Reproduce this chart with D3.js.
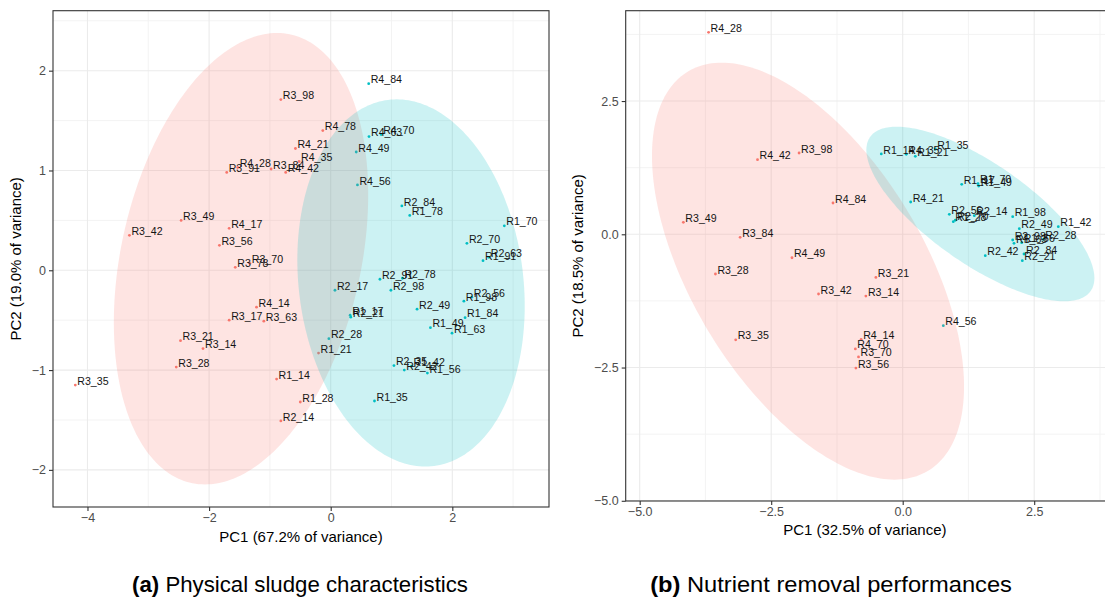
<!DOCTYPE html>
<html>
<head>
<meta charset="utf-8">
<script src="https://cdn.jsdelivr.net/npm/d3@7"></script>
<style>
  body { margin: 0; background: #ffffff; }
  svg { display: block; }
</style>
</head>
<body>
<svg id="chart" width="1105" height="601"></svg>
<script>
// ---------- (a) Physical sludge characteristics: PCA scores ----------
const sludgeLabels = [
  "R3_98","R4_28","R3_91","R3_84","R4_42","R4_35","R4_21","R4_78","R3_49","R3_42",
  "R4_17","R3_56","R3_78","R3_70","R4_14","R3_17","R3_63","R3_21","R3_14","R3_28",
  "R3_35","R1_14","R2_14","R1_28","R1_21",
  "R2_28","R2_17","R1_17","R2_21","R2_91","R2_78","R2_98","R2_49","R1_49","R1_63",
  "R1_84","R1_98","R2_56","R2_35","R2_42","R1_42","R1_56","R1_35","R4_84","R4_63",
  "R4_70","R4_49","R4_56","R2_84","R1_78","R1_70","R2_70","R1_91","R2_63"
];
const sludgePC1 = [
  -0.82,-1.53,-1.71,-0.98,-0.74,-0.52,-0.58,-0.13,-2.46,-3.31,
  -1.67,-1.83,-1.57,-1.33,-1.22,-1.67,-1.10,-2.47,-2.10,-2.54,
  -4.20,-0.89,-0.82,-0.50,-0.20,
  -0.03,0.07,0.32,0.33,0.81,1.18,0.99,1.42,1.64,1.995,
  2.21,2.19,2.32,1.04,1.21,1.33,1.59,0.72,0.625,0.63,
  0.83,0.42,0.44,1.17,1.30,2.855,2.24,2.505,2.60
];
const sludgePC2 = [
  1.71,1.03,0.98,1.015,0.98,1.09,1.22,1.40,0.50,0.35,
  0.42,0.25,0.03,0.07,-0.37,-0.50,-0.51,-0.705,-0.785,-0.97,
  -1.15,-1.09,-1.51,-1.32,-0.83,
  -0.685,-0.20,-0.45,-0.47,-0.09,-0.08,-0.20,-0.39,-0.575,-0.63,
  -0.475,-0.31,-0.27,-0.955,-1.00,-0.96,-1.03,-1.31,1.87,1.34,
  1.36,1.185,0.855,0.645,0.55,0.445,0.27,0.096,0.13
];
const sludgeCluster = [
  1,1,1,1,1,1,1,1,1,1,
  1,1,1,1,1,1,1,1,1,1,
  1,1,1,1,1,
  2,2,2,2,2,2,2,2,2,2,
  2,2,2,2,2,2,2,2,2,2,
  2,2,2,2,2,2,2,2,2
];
// 95% ellipses: centre, end of the vertical-extreme semi-diameter, horizontal half-width
const sludgeEllipseCluster = [1, 2];
const sludgeEllipseCx = [-1.475, 1.321];
const sludgeEllipseCy = [0.116, -0.127];
const sludgeEllipseTopX = [-0.883, 1.086];
const sludgeEllipseTopY = [2.378, 1.713];
const sludgeEllipseHalfW = [2.006, 1.855];
const sludgeXTicks = [-4, -2, 0, 2];
const sludgeYTicks = [-2, -1, 0, 1, 2];
const sludgeXMinor = [-3, -1, 1, 3];
const sludgeYMinor = [-1.5, -0.5, 0.5, 1.5, 2.5];

// ---------- (b) Nutrient removal performances: PCA scores ----------
const nutrientLabels = [
  "R4_28","R4_42","R3_98","R4_84","R3_49","R3_84","R4_49","R3_28","R3_42","R3_35",
  "R3_21","R3_14","R4_14","R4_70","R3_70","R3_56",
  "R1_14","R4_35","R1_21","R1_35","R1_17","R1_70","R1_49","R4_21","R2_56","R2_14",
  "R1_28","R2_70","R1_98","R2_49","R1_42","R2_98","R1_63","R1_56","R2_28","R2_42",
  "R2_84","R2_21","R4_56"
];
const nutrientPC1 = [
  -3.69,-2.76,-1.97,-1.325,-4.17,-3.09,-2.105,-3.56,-1.60,-3.175,
  -0.51,-0.70,-0.79,-0.90,-0.84,-0.89,
  -0.407,0.068,0.240,0.620,1.122,1.432,1.445,0.152,0.886,1.361,
  0.962,1.000,2.091,2.217,2.958,2.091,2.116,2.262,2.673,1.570,
  2.306,2.274,0.772
];
const nutrientPC2 = [
  3.79,1.40,1.525,0.587,0.225,-0.056,-0.44,-0.745,-1.12,-1.98,
  -0.81,-1.16,-1.97,-2.15,-2.30,-2.51,
  1.507,1.501,1.463,1.600,0.938,0.949,0.906,0.606,0.375,0.349,
  0.236,0.263,0.330,0.105,0.143,-0.107,-0.169,-0.158,-0.094,-0.401,
  -0.370,-0.495,-1.715
];
const nutrientCluster = [
  1,1,1,1,1,1,1,1,1,1,
  1,1,1,1,1,1,
  2,2,2,2,2,2,2,2,2,2,
  2,2,2,2,2,2,2,2,2,2,
  2,2,2
];
const nutrientEllipseCluster = [1, 2];
const nutrientEllipseCx = [-1.800, 1.477];
const nutrientEllipseCy = [-0.692, 0.381];
const nutrientEllipseTopX = [-3.441, -0.114];
const nutrientEllipseTopY = [3.219, 2.019];
const nutrientEllipseHalfW = [2.471, 1.472];
const nutrientXTicks = [-5, -2.5, 0, 2.5];
const nutrientYTicks = [-5, -2.5, 0, 2.5];
const nutrientXMinor = [-3.75, -1.25, 1.25, 3.75];
const nutrientYMinor = [-3.75, -1.25, 1.25, 3.75];

const clusterColour = { 1: "#F8766D", 2: "#00BFC4" };

const svg = d3.select("#chart");
svg.append("rect").attr("width", 1105).attr("height", 601).attr("fill", "#ffffff");

function drawPanel(cfg) {
  const x = d3.scaleLinear().domain(cfg.xDomain).range([cfg.left, cfg.right]);
  const y = d3.scaleLinear().domain(cfg.yDomain).range([cfg.bottom, cfg.top]);
  const g = svg.append("g");

  const clipId = "clip-" + cfg.id;
  g.append("clipPath").attr("id", clipId)
    .append("rect")
    .attr("x", cfg.left).attr("y", cfg.top)
    .attr("width", cfg.right - cfg.left).attr("height", cfg.bottom - cfg.top);

  const panel = g.append("g").attr("clip-path", `url(#${clipId})`);

  // grid: minor then major
  panel.selectAll("line.vminor").data(cfg.xMinor).join("line")
    .attr("x1", d => x(d)).attr("x2", d => x(d))
    .attr("y1", cfg.top).attr("y2", cfg.bottom)
    .attr("stroke", "#f2f2f2").attr("stroke-width", 0.9);
  panel.selectAll("line.hminor").data(cfg.yMinor).join("line")
    .attr("y1", d => y(d)).attr("y2", d => y(d))
    .attr("x1", cfg.left).attr("x2", cfg.right)
    .attr("stroke", "#f2f2f2").attr("stroke-width", 0.9);
  panel.selectAll("line.vmajor").data(cfg.xTicks).join("line")
    .attr("x1", d => x(d)).attr("x2", d => x(d))
    .attr("y1", cfg.top).attr("y2", cfg.bottom)
    .attr("stroke", "#ebebeb").attr("stroke-width", 1.1);
  panel.selectAll("line.hmajor").data(cfg.yTicks).join("line")
    .attr("y1", d => y(d)).attr("y2", d => y(d))
    .attr("x1", cfg.left).attr("x2", cfg.right)
    .attr("stroke", "#ebebeb").attr("stroke-width", 1.1);

  const rows = cfg.labels.map((lab, i) => ({
    label: lab, pc1: cfg.pc1[i], pc2: cfg.pc2[i], cluster: cfg.cluster[i]
  }));

  // sample points
  panel.append("g").selectAll("circle").data(rows).join("circle")
    .attr("cx", d => x(d.pc1)).attr("cy", d => y(d.pc2))
    .attr("r", 1.4)
    .attr("fill", d => clusterColour[d.cluster]);

  // confidence ellipses drawn from centre and two conjugate semi-diameters
  const ellipses = cfg.ell.cluster.map((c, i) => ({
    cluster: c, cx: cfg.ell.cx[i], cy: cfg.ell.cy[i],
    tx: cfg.ell.topX[i], ty: cfg.ell.topY[i], hw: cfg.ell.halfW[i]
  }));
  const line = d3.line().curve(d3.curveLinearClosed);
  panel.append("g").selectAll("path").data(ellipses).join("path")
    .attr("d", e => {
      const pts = d3.range(0, 240).map(k => {
        const t = (k / 240) * 2 * Math.PI;
        const vx = e.cx + (e.tx - e.cx) * Math.cos(t) + e.hw * Math.sin(t);
        const vy = e.cy + (e.ty - e.cy) * Math.cos(t);
        return [x(vx), y(vy)];
      });
      return line(pts);
    })
    .attr("fill", e => clusterColour[e.cluster])
    .attr("fill-opacity", 0.2)
    .attr("stroke", "none");

  // sample labels
  panel.append("g").selectAll("text").data(rows).join("text")
    .attr("x", d => x(d.pc1) + 2)
    .attr("y", d => y(d.pc2) - 0.4)
    .attr("font-family", "Liberation Sans, Arial, sans-serif")
    .attr("font-size", 10.6)
    .attr("fill", "#141414")
    .text(d => d.label);

  // panel border
  g.append("rect")
    .attr("x", cfg.left).attr("y", cfg.top)
    .attr("width", cfg.right - cfg.left).attr("height", cfg.bottom - cfg.top)
    .attr("fill", "none").attr("stroke", "#333333").attr("stroke-width", 1.1);

  // axes
  const xAxis = g.append("g").attr("transform", `translate(0,${cfg.bottom})`)
    .call(d3.axisBottom(x).tickValues(cfg.xTicks).tickFormat(cfg.fmt).tickSize(4).tickPadding(2.5));
  const yAxis = g.append("g").attr("transform", `translate(${cfg.left},0)`)
    .call(d3.axisLeft(y).tickValues(cfg.yTicks).tickFormat(cfg.fmt).tickSize(4).tickPadding(3));
  [xAxis, yAxis].forEach(a => {
    a.select(".domain").remove();
    a.selectAll(".tick line").attr("stroke", "#333333").attr("stroke-width", 1.1);
    a.selectAll(".tick text")
      .attr("font-family", "Liberation Sans, Arial, sans-serif")
      .attr("font-size", 12.5)
      .attr("fill", "#4d4d4d");
  });

  // axis titles
  g.append("text")
    .attr("x", (cfg.left + Math.min(cfg.right, 1104)) / 2)
    .attr("y", cfg.xTitleY)
    .attr("text-anchor", "middle")
    .attr("font-family", "Liberation Sans, Arial, sans-serif")
    .attr("font-size", 15)
    .attr("fill", "#000000")
    .text(cfg.xTitle);
  g.append("text")
    .attr("transform", `translate(${cfg.yTitleX},${(cfg.top + cfg.bottom) / 2}) rotate(-90)`)
    .attr("text-anchor", "middle")
    .attr("font-family", "Liberation Sans, Arial, sans-serif")
    .attr("font-size", 15)
    .attr("fill", "#000000")
    .text(cfg.yTitle);

  // sub-figure caption
  const cap = g.append("text")
    .attr("text-anchor", "middle")
    .attr("font-family", "Liberation Sans, Arial, sans-serif")
    .attr("font-size", 22)
    .attr("fill", "#000000");
  cap.append("tspan").attr("font-weight", "bold").text(cfg.capTag);
  cap.append("tspan").text(" " + cfg.capText);
  const w = cap.node().getComputedTextLength();
  cap.attr("transform", `translate(${cfg.capX},${cfg.capY}) scale(${cfg.capW / w},1)`);
}

drawPanel({
  id: "a",
  left: 53, right: 549, top: 10.7, bottom: 507,
  xDomain: [-4.567, 3.590], yDomain: [-2.372, 2.601],
  xTicks: sludgeXTicks, yTicks: sludgeYTicks,
  xMinor: sludgeXMinor, yMinor: sludgeYMinor,
  fmt: d3.format("d"),
  labels: sludgeLabels, pc1: sludgePC1, pc2: sludgePC2, cluster: sludgeCluster,
  ell: { cluster: sludgeEllipseCluster, cx: sludgeEllipseCx, cy: sludgeEllipseCy,
         topX: sludgeEllipseTopX, topY: sludgeEllipseTopY, halfW: sludgeEllipseHalfW },
  xTitle: "PC1 (67.2% of variance)", xTitleY: 542,
  yTitle: "PC2 (19.0% of variance)", yTitleX: 21,
  capTag: "(a)", capText: "Physical sludge characteristics",
  capX: 300, capY: 592, capW: 336
});

drawPanel({
  id: "b",
  left: 625.7, right: 1106, top: 10.7, bottom: 501,
  xDomain: [-5.266, 3.865], yDomain: [-5.004, 4.195],
  xTicks: nutrientXTicks, yTicks: nutrientYTicks,
  xMinor: nutrientXMinor, yMinor: nutrientYMinor,
  fmt: d3.format(".1f"),
  labels: nutrientLabels, pc1: nutrientPC1, pc2: nutrientPC2, cluster: nutrientCluster,
  ell: { cluster: nutrientEllipseCluster, cx: nutrientEllipseCx, cy: nutrientEllipseCy,
         topX: nutrientEllipseTopX, topY: nutrientEllipseTopY, halfW: nutrientEllipseHalfW },
  xTitle: "PC1 (32.5% of variance)", xTitleY: 535,
  yTitle: "PC2 (18.5% of variance)", yTitleX: 583,
  capTag: "(b)", capText: "Nutrient removal performances",
  capX: 831, capY: 592, capW: 362
});
</script>
</body>
</html>
